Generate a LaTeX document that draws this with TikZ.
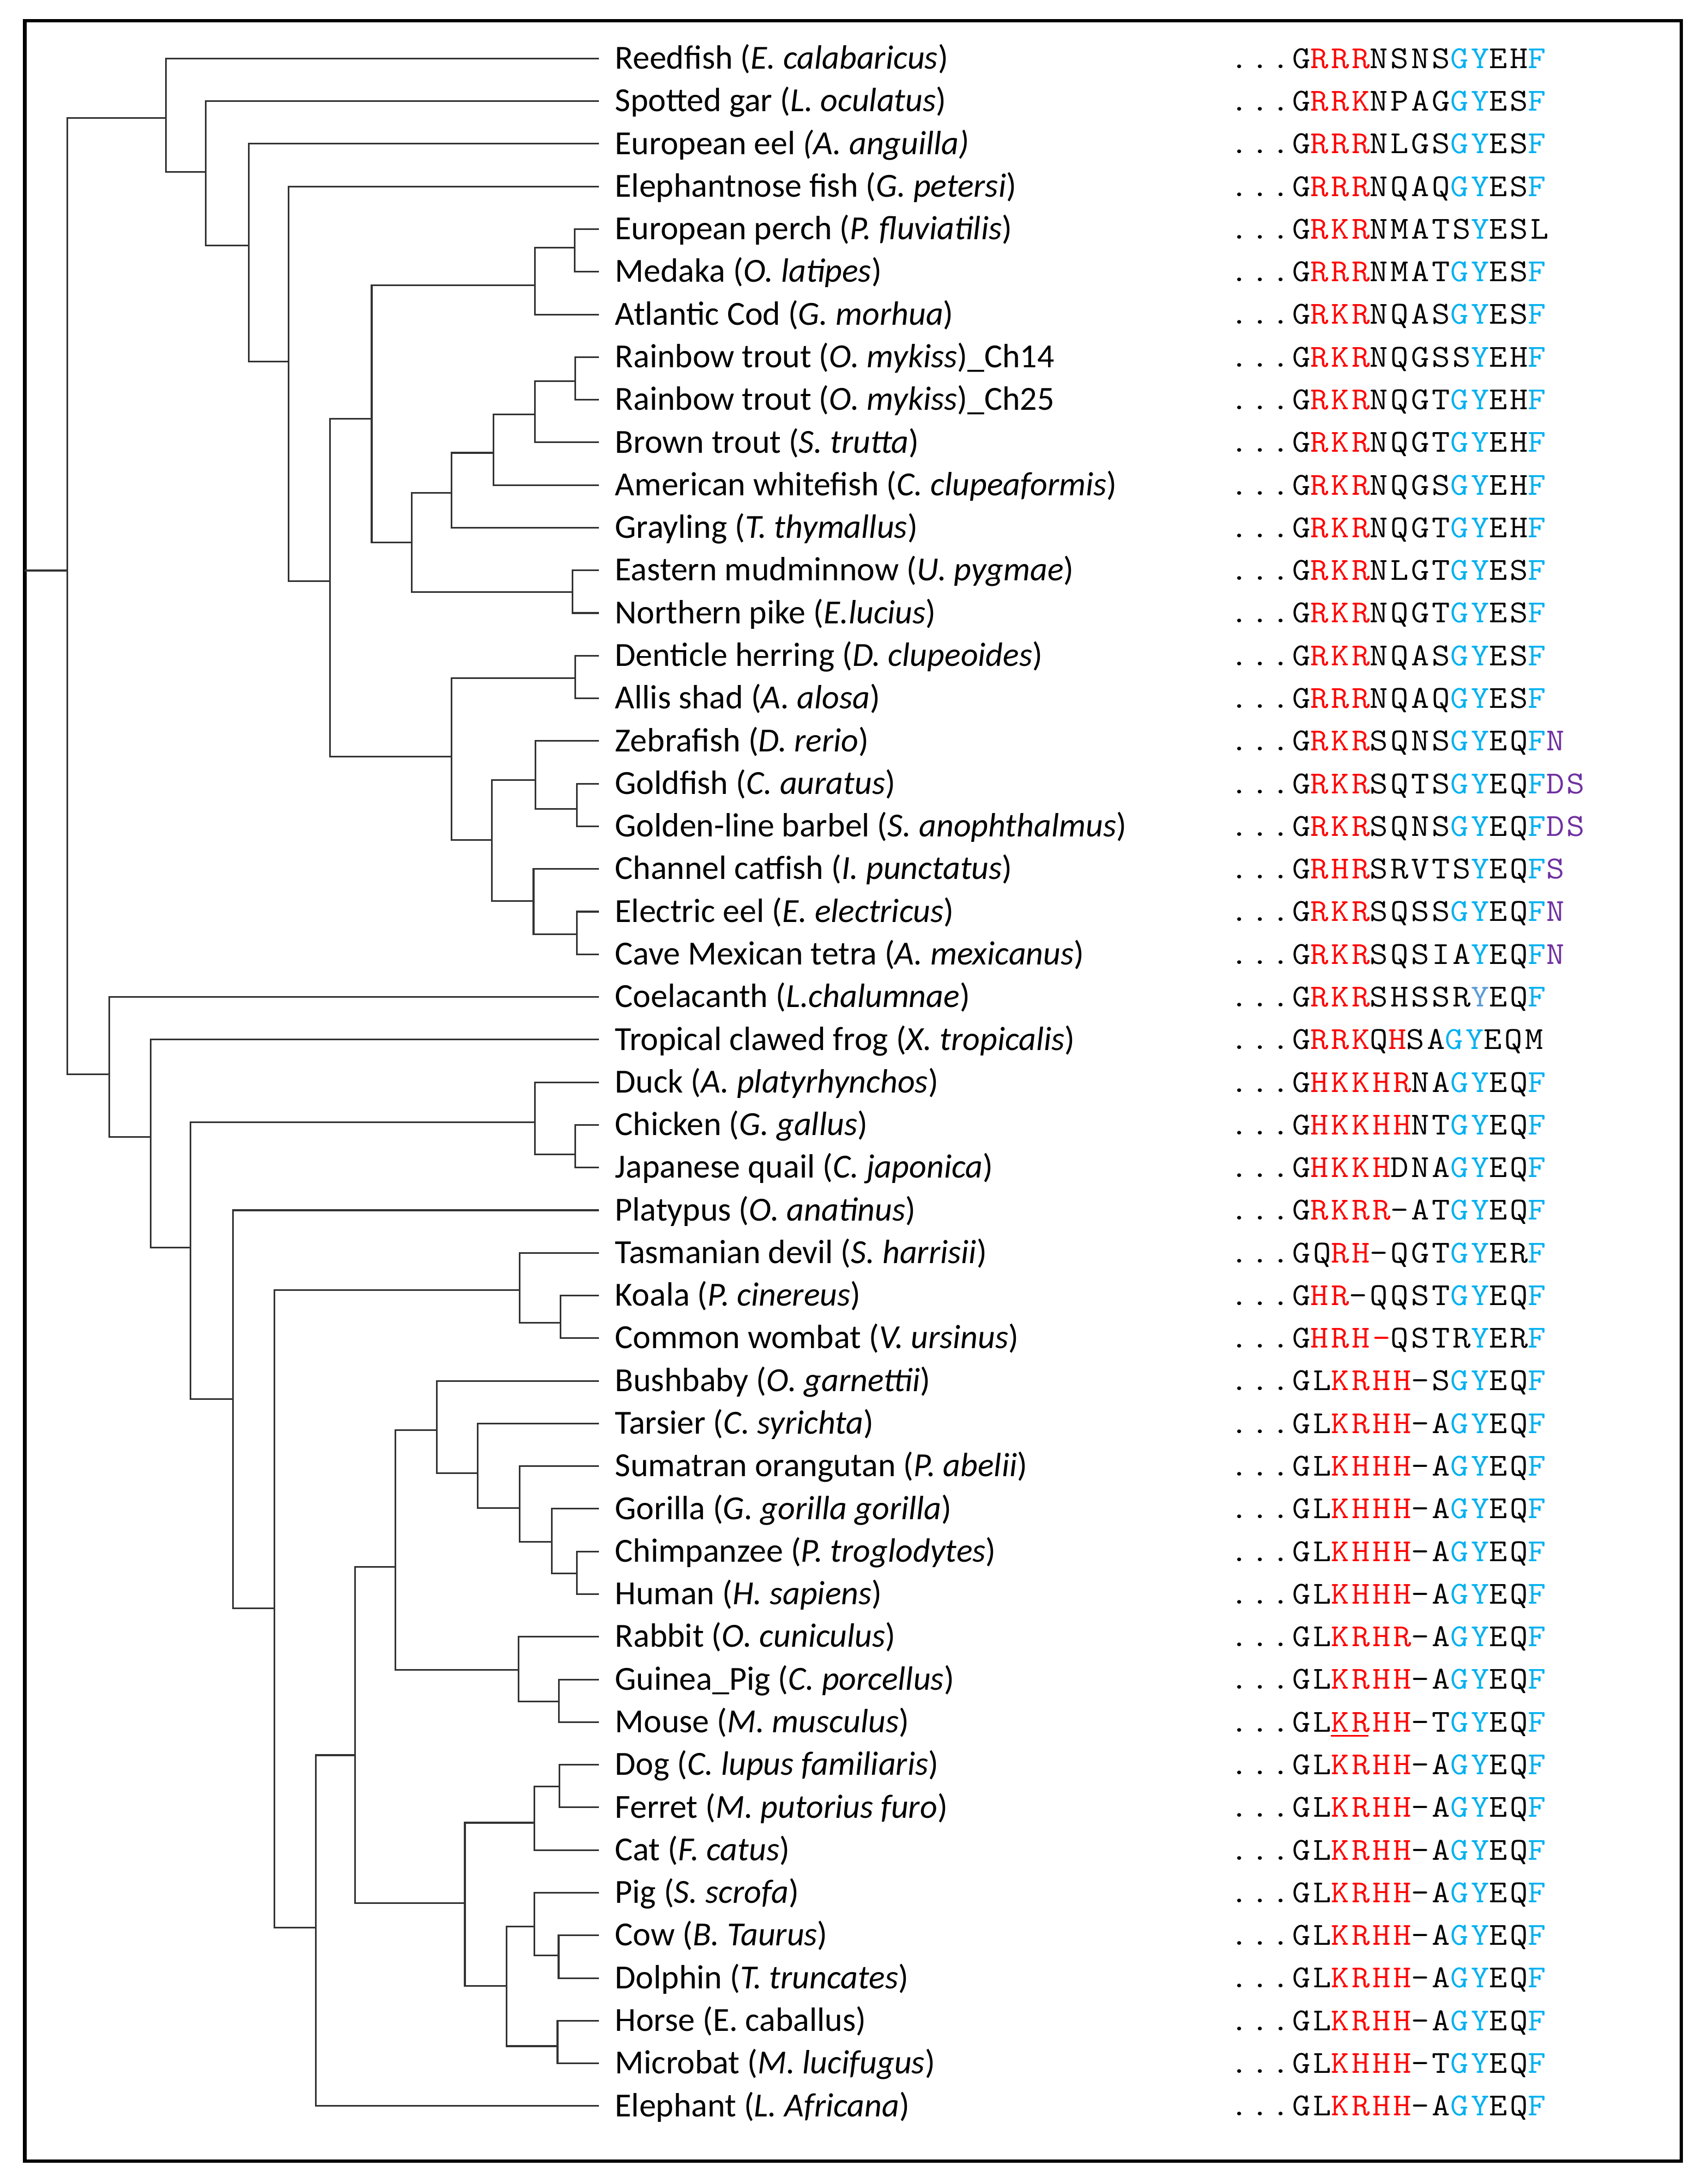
\documentclass[tikz,border=0pt]{standalone}
\usepackage{fontspec}
\setmainfont{Carlito}
\newfontfamily\seqfont[FakeStretch=1.1,LetterSpace=8]{Latin Modern Mono}

\definecolor{seqred}{RGB}{255,0,0}
\definecolor{seqblue}{RGB}{0,176,240}
\definecolor{seqpurple}{RGB}{112,48,160}
\definecolor{seqpale}{RGB}{91,155,213}
\newcommand{\aaR}[1]{\textcolor{seqred}{#1}}
\newcommand{\aaB}[1]{\textcolor{seqblue}{#1}}
\newcommand{\aaP}[1]{\textcolor{seqpurple}{#1}}
\newcommand{\aaU}{\rlap{\rule[-3.5pt]{27pt}{1.2pt}}}

\tikzset{every picture/.style={line width=1.2pt}}
\tikzset{
  branch/.style={draw=black!80, line width=1.2pt},
  leaf/.style={anchor=west, inner xsep=11pt, inner ysep=0pt, text height=15pt, text depth=0pt,
    font=\fontsize{24.2}{24}\selectfont},
  seq/.style={anchor=west, inner sep=0pt, text height=14pt, text depth=0pt,
    font=\seqfont\fontsize{23}{24}\selectfont},
}

\begin{document}
\begin{tikzpicture}[x=1pt,y=1pt,yscale=-1]
\useasboundingbox (0,0) rectangle (1226,1568);

%Frame
\draw [line width=2.4pt] (17.8,15) rectangle (1207,1551.4);

% Leaf nodes
\node[leaf] (reedfish) at (430,42) {Reedfish (\textit{E. calabaricus})};
\node[leaf] (gar) at (430,72.625) {Spotted gar (\textit{L. oculatus})};
\node[leaf] (eel) at (430,103.25) {European eel \textit{(A. anguilla)}};
\node[leaf] (elnose) at (430,133.875) {Elephantnose fish (\textit{G. petersi})};
\node[leaf] (perch) at (430,164.5) {European perch (\textit{P. fluviatilis})};
\node[leaf] (medaka) at (430,195.125) {Medaka (\textit{O. latipes})};
\node[leaf] (cod) at (430,225.75) {Atlantic Cod (\textit{G. morhua})};
\node[leaf] (trouta) at (430,256.375) {Rainbow trout (\textit{O. mykiss})\_Ch14};
\node[leaf] (troutb) at (430,287) {Rainbow trout (\textit{O. mykiss})\_Ch25};
\node[leaf] (brown) at (430,317.625) {Brown trout (\textit{S. trutta})};
\node[leaf] (whitefish) at (430,348.25) {American whitefish (\textit{C. clupeaformis})};
\node[leaf] (grayling) at (430,378.875) {Grayling (\textit{T. thymallus})};
\node[leaf] (mudminnow) at (430,409.5) {Eastern mudminnow (\textit{U. pygmae})};
\node[leaf] (pike) at (430,440.125) {Northern pike (\textit{E.lucius})};
\node[leaf] (herring) at (430,470.75) {Denticle herring (\textit{D. clupeoides})};
\node[leaf] (shad) at (430,501.375) {Allis shad (\textit{A. alosa})};
\node[leaf] (zebrafish) at (430,532) {Zebrafish (\textit{D. rerio})};
\node[leaf] (goldfish) at (430,562.625) {Goldfish (\textit{C. auratus})};
\node[leaf] (barbel) at (430,593.25) {Golden-line barbel (\textit{S. anophthalmus})};
\node[leaf] (catfish) at (430,623.875) {Channel catfish (\textit{I. punctatus})};
\node[leaf] (eleel) at (430,654.5) {Electric eel (\textit{E. electricus})};
\node[leaf] (tetra) at (430,685.125) {Cave Mexican tetra (\textit{A. mexicanus})};
\node[leaf] (coelacanth) at (430,715.75) {Coelacanth (\textit{L.chalumnae})};
\node[leaf] (frog) at (430,746.375) {Tropical clawed frog (\textit{X. tropicalis})};
\node[leaf] (duck) at (430,777) {Duck (\textit{A. platyrhynchos})};
\node[leaf] (chicken) at (430,807.625) {Chicken (\textit{G. gallus})};
\node[leaf] (quail) at (430,838.25) {Japanese quail (\textit{C. japonica})};
\node[leaf] (platypus) at (430,868.875) {Platypus (\textit{O. anatinus})};
\node[leaf] (devil) at (430,899.5) {Tasmanian devil (\textit{S. harrisii})};
\node[leaf] (koala) at (430,930.125) {Koala (\textit{P. cinereus})};
\node[leaf] (wombat) at (430,960.75) {Common wombat (\textit{V. ursinus})};
\node[leaf] (bushbaby) at (430,991.375) {Bushbaby (\textit{O. garnettii})};
\node[leaf] (tarsier) at (430,1022) {Tarsier (\textit{C. syrichta})};
\node[leaf] (orangutan) at (430,1052.625) {Sumatran orangutan (\textit{P. abelii})};
\node[leaf] (gorilla) at (430,1083.25) {Gorilla (\textit{G. gorilla gorilla})};
\node[leaf] (chimp) at (430,1113.875) {Chimpanzee (\textit{P. troglodytes})};
\node[leaf] (human) at (430,1144.5) {Human (\textit{H. sapiens})};
\node[leaf] (rabbit) at (430,1175.125) {Rabbit (\textit{O. cuniculus})};
\node[leaf] (guineapig) at (430,1205.75) {Guinea\_Pig (\textit{C. porcellus})};
\node[leaf] (mouse) at (430,1236.375) {Mouse (\textit{M. musculus})};
\node[leaf] (dog) at (430,1267) {Dog (\textit{C. lupus familiaris})};
\node[leaf] (ferret) at (430,1297.625) {Ferret (\textit{M. putorius furo})};
\node[leaf] (cat) at (430,1328.25) {Cat (\textit{F. catus})};
\node[leaf] (pig) at (430,1358.875) {Pig (\textit{S. scrofa})};
\node[leaf] (cow) at (430,1389.5) {Cow (\textit{B. Taurus})};
\node[leaf] (dolphin) at (430,1420.125) {Dolphin (\textit{T. truncates})};
\node[leaf] (horse) at (430,1450.75) {Horse (E. caballus)};
\node[leaf] (microbat) at (430,1481.375) {Microbat (\textit{M. lucifugus})};
\node[leaf] (elephant) at (430,1512) {Elephant (\textit{L. Africana})};

% Sequence nodes
\node[seq] (reedfish-s) at (882.4,42) {...G\aaR{RRR}NSNS\aaB{GY}EH\aaB{F}};
\node[seq] (gar-s) at (882.4,72.625) {...G\aaR{RRK}NPAG\aaB{GY}ES\aaB{F}};
\node[seq] (eel-s) at (882.4,103.25) {...G\aaR{RRR}NLGS\aaB{GY}ES\aaB{F}};
\node[seq] (elnose-s) at (882.4,133.875) {...G\aaR{RRR}NQAQ\aaB{GY}ES\aaB{F}};
\node[seq] (perch-s) at (882.4,164.5) {...G\aaR{RKR}NMATS\aaB{Y}ESL};
\node[seq] (medaka-s) at (882.4,195.125) {...G\aaR{RRR}NMAT\aaB{GY}ES\aaB{F}};
\node[seq] (cod-s) at (882.4,225.75) {...G\aaR{RKR}NQAS\aaB{GY}ES\aaB{F}};
\node[seq] (trouta-s) at (882.4,256.375) {...G\aaR{RKR}NQGSS\aaB{Y}EH\aaB{F}};
\node[seq] (troutb-s) at (882.4,287) {...G\aaR{RKR}NQGT\aaB{GY}EH\aaB{F}};
\node[seq] (brown-s) at (882.4,317.625) {...G\aaR{RKR}NQGT\aaB{GY}EH\aaB{F}};
\node[seq] (whitefish-s) at (882.4,348.25) {...G\aaR{RKR}NQGS\aaB{GY}EH\aaB{F}};
\node[seq] (grayling-s) at (882.4,378.875) {...G\aaR{RKR}NQGT\aaB{GY}EH\aaB{F}};
\node[seq] (mudminnow-s) at (882.4,409.5) {...G\aaR{RKR}NLGT\aaB{GY}ES\aaB{F}};
\node[seq] (pike-s) at (882.4,440.125) {...G\aaR{RKR}NQGT\aaB{GY}ES\aaB{F}};
\node[seq] (herring-s) at (882.4,470.75) {...G\aaR{RKR}NQAS\aaB{GY}ES\aaB{F}};
\node[seq] (shad-s) at (882.4,501.375) {...G\aaR{RRR}NQAQ\aaB{GY}ES\aaB{F}};
\node[seq] (zebrafish-s) at (882.4,532) {...G\aaR{RKR}SQNS\aaB{GY}EQ\aaB{F}\aaP{N}};
\node[seq] (goldfish-s) at (882.4,562.625) {...G\aaR{RKR}SQTS\aaB{GY}EQ\aaB{F}\aaP{DS}};
\node[seq] (barbel-s) at (882.4,593.25) {...G\aaR{RKR}SQNS\aaB{GY}EQ\aaB{F}\aaP{DS}};
\node[seq] (catfish-s) at (882.4,623.875) {...G\aaR{RHR}SRVTS\aaB{Y}EQ\aaB{F}\aaP{S}};
\node[seq] (eleel-s) at (882.4,654.5) {...G\aaR{RKR}SQSS\aaB{GY}EQ\aaB{F}\aaP{N}};
\node[seq] (tetra-s) at (882.4,685.125) {...G\aaR{RKR}SQSIA\aaB{Y}EQ\aaB{F}\aaP{N}};
\node[seq] (coelacanth-s) at (882.4,715.75) {...G\aaR{RKR}SHSSR\textcolor{seqpale}{Y}EQ\aaB{F}};
\node[seq] (frog-s) at (882.4,746.375) {...G\aaR{RRK}Q\aaR{H}SA\aaB{GY}EQM};
\node[seq] (duck-s) at (882.4,777) {...G\aaR{HKKHR}NA\aaB{GY}EQ\aaB{F}};
\node[seq] (chicken-s) at (882.4,807.625) {...G\aaR{HKKHH}NT\aaB{GY}EQ\aaB{F}};
\node[seq] (quail-s) at (882.4,838.25) {...G\aaR{HKKH}DNA\aaB{GY}EQ\aaB{F}};
\node[seq] (platypus-s) at (882.4,868.875) {...G\aaR{RKRR}-AT\aaB{GY}EQ\aaB{F}};
\node[seq] (devil-s) at (882.4,899.5) {...GQ\aaR{RH}-QGT\aaB{GY}ER\aaB{F}};
\node[seq] (koala-s) at (882.4,930.125) {...G\aaR{HR}-QQST\aaB{GY}EQ\aaB{F}};
\node[seq] (wombat-s) at (882.4,960.75) {...G\aaR{HRH-}QSTR\aaB{Y}ER\aaB{F}};
\node[seq] (bushbaby-s) at (882.4,991.375) {...GL\aaR{KRHH}-S\aaB{GY}EQ\aaB{F}};
\node[seq] (tarsier-s) at (882.4,1022) {...GL\aaR{KRHH}-A\aaB{GY}EQ\aaB{F}};
\node[seq] (orangutan-s) at (882.4,1052.625) {...GL\aaR{KHHH}-A\aaB{GY}EQ\aaB{F}};
\node[seq] (gorilla-s) at (882.4,1083.25) {...GL\aaR{KHHH}-A\aaB{GY}EQ\aaB{F}};
\node[seq] (chimp-s) at (882.4,1113.875) {...GL\aaR{KHHH}-A\aaB{GY}EQ\aaB{F}};
\node[seq] (human-s) at (882.4,1144.5) {...GL\aaR{KHHH}-A\aaB{GY}EQ\aaB{F}};
\node[seq] (rabbit-s) at (882.4,1175.125) {...GL\aaR{KRHR}-A\aaB{GY}EQ\aaB{F}};
\node[seq] (guineapig-s) at (882.4,1205.75) {...GL\aaR{KRHH}-A\aaB{GY}EQ\aaB{F}};
\node[seq] (mouse-s) at (882.4,1236.375) {...GL\aaR{\aaU KRHH}-T\aaB{GY}EQ\aaB{F}};
\node[seq] (dog-s) at (882.4,1267) {...GL\aaR{KRHH}-A\aaB{GY}EQ\aaB{F}};
\node[seq] (ferret-s) at (882.4,1297.625) {...GL\aaR{KRHH}-A\aaB{GY}EQ\aaB{F}};
\node[seq] (cat-s) at (882.4,1328.25) {...GL\aaR{KRHH}-A\aaB{GY}EQ\aaB{F}};
\node[seq] (pig-s) at (882.4,1358.875) {...GL\aaR{KRHH}-A\aaB{GY}EQ\aaB{F}};
\node[seq] (cow-s) at (882.4,1389.5) {...GL\aaR{KRHH}-A\aaB{GY}EQ\aaB{F}};
\node[seq] (dolphin-s) at (882.4,1420.125) {...GL\aaR{KRHH}-A\aaB{GY}EQ\aaB{F}};
\node[seq] (horse-s) at (882.4,1450.75) {...GL\aaR{KRHH}-A\aaB{GY}EQ\aaB{F}};
\node[seq] (microbat-s) at (882.4,1481.375) {...GL\aaR{KHHH}-T\aaB{GY}EQ\aaB{F}};
\node[seq] (elephant-s) at (882.4,1512) {...GL\aaR{KRHH}-A\aaB{GY}EQ\aaB{F}};

% Internal nodes
\coordinate (stem) at (17.8,409.6);
\coordinate (root) at (48.2,409.6);
\coordinate (actino) at (119,84.8);
\coordinate (neoa) at (147.8,123.5);
\coordinate (neob) at (178.5,176.4);
\coordinate (neoc) at (207.1,259.5);
\coordinate (neod) at (237,417.1);
\coordinate (eutel) at (266.8,300.6);
\coordinate (percomorph) at (383.9,204.8);
\coordinate (perchmedaka) at (412.6,177.9);
\coordinate (protacanth) at (295.5,389.5);
\coordinate (salmo) at (324.2,353.8);
\coordinate (salmb) at (354.3,325.1);
\coordinate (salmc) at (384,297.6);
\coordinate (trouts) at (413.1,273.7);
\coordinate (esoc) at (411.1,425.1);
\coordinate (otocephala) at (324.2,543.1);
\coordinate (clupe) at (413.1,487);
\coordinate (ostario) at (352.9,603.2);
\coordinate (cyprin) at (384.4,560);
\coordinate (goldpair) at (414,580.8);
\coordinate (chara) at (383,646.9);
\coordinate (eeltetra) at (414,670.6);
\coordinate (sarco) at (78.3,771.3);
\coordinate (tetrapod) at (108.2,816.3);
\coordinate (amniote) at (136.9,895.6);
\coordinate (birds) at (383.9,805.8);
\coordinate (galli) at (413.1,828.7);
\coordinate (mammal) at (167.3,1004.6);
\coordinate (therian) at (197.1,1154.6);
\coordinate (marsup) at (373,926.3);
\coordinate (vomb) at (402.5,949.7);
\coordinate (placental) at (226.7,1383.8);
\coordinate (boreo) at (254.8,1260.1);
\coordinate (euarch) at (284,1125.1);
\coordinate (primate) at (313.6,1026.6);
\coordinate (haplo) at (342.8,1057.8);
\coordinate (apes) at (373,1082.7);
\coordinate (hominin) at (396,1107);
\coordinate (chimphuman) at (414,1129.5);
\coordinate (glires) at (372.4,1198.8);
\coordinate (rodent) at (401.1,1221.4);
\coordinate (laur) at (333.7,1366.4);
\coordinate (carniv) at (383.6,1308.6);
\coordinate (dogferret) at (401.7,1282.6);
\coordinate (ungul) at (363.5,1425.7);
\coordinate (artio) at (383.6,1383.2);
\coordinate (cetrum) at (401,1404);
\coordinate (horsebat) at (400.2,1469);

% Branches, fishes
\draw[branch] (stem) -- (root) (root) |- (actino) (root) |- (sarco);
\draw[branch] (actino) |- (reedfish.west) (actino) |- (neoa);
\draw[branch] (neoa) |- (gar.west) (neoa) |- (neob);
\draw[branch] (neob) |- (eel.west) (neob) |- (neoc);
\draw[branch] (neoc) |- (elnose.west) (neoc) |- (neod);
\draw[branch] (neod) |- (eutel) (neod) |- (otocephala);
\draw[branch] (eutel) |- (percomorph) (eutel) |- (protacanth);
\draw[branch] (percomorph) |- (perchmedaka) (percomorph) |- (cod.west);
\draw[branch] (perchmedaka) |- (perch.west) (perchmedaka) |- (medaka.west);
\draw[branch] (protacanth) |- (salmo) (protacanth) |- (esoc);
\draw[branch] (salmo) |- (salmb) (salmo) |- (grayling.west);
\draw[branch] (salmb) |- (salmc) (salmb) |- (whitefish.west);
\draw[branch] (salmc) |- (trouts) (salmc) |- (brown.west);
\draw[branch] (trouts) |- (trouta.west) (trouts) |- (troutb.west);
\draw[branch] (esoc) |- (mudminnow.west) (esoc) |- (pike.west);
\draw[branch] (otocephala) |- (clupe) (otocephala) |- (ostario);
\draw[branch] (clupe) |- (herring.west) (clupe) |- (shad.west);
\draw[branch] (ostario) |- (cyprin) (ostario) |- (chara);
\draw[branch] (cyprin) |- (zebrafish.west) (cyprin) |- (goldpair);
\draw[branch] (goldpair) |- (goldfish.west) (goldpair) |- (barbel.west);
\draw[branch] (chara) |- (catfish.west) (chara) |- (eeltetra);
\draw[branch] (eeltetra) |- (eleel.west) (eeltetra) |- (tetra.west);

% Branches, tetrapods
\draw[branch] (sarco) |- (coelacanth.west) (sarco) |- (tetrapod);
\draw[branch] (tetrapod) |- (frog.west) (tetrapod) |- (amniote);
\draw[branch] (amniote) |- (birds) (amniote) |- (mammal);
\draw[branch] (birds) |- (duck.west) (birds) |- (galli);
\draw[branch] (galli) |- (chicken.west) (galli) |- (quail.west);
\draw[branch] (mammal) |- (platypus.west) (mammal) |- (therian);
\draw[branch] (therian) |- (marsup) (therian) |- (placental);
\draw[branch] (marsup) |- (devil.west) (marsup) |- (vomb);
\draw[branch] (vomb) |- (koala.west) (vomb) |- (wombat.west);
\draw[branch] (placental) |- (boreo) (placental) |- (elephant.west);
\draw[branch] (boreo) |- (euarch) (boreo) |- (laur);
\draw[branch] (euarch) |- (primate) (euarch) |- (glires);
\draw[branch] (primate) |- (bushbaby.west) (primate) |- (haplo);
\draw[branch] (haplo) |- (tarsier.west) (haplo) |- (apes);
\draw[branch] (apes) |- (orangutan.west) (apes) |- (hominin);
\draw[branch] (hominin) |- (gorilla.west) (hominin) |- (chimphuman);
\draw[branch] (chimphuman) |- (chimp.west) (chimphuman) |- (human.west);
\draw[branch] (glires) |- (rabbit.west) (glires) |- (rodent);
\draw[branch] (rodent) |- (guineapig.west) (rodent) |- (mouse.west);
\draw[branch] (laur) |- (carniv) (laur) |- (ungul);
\draw[branch] (carniv) |- (dogferret) (carniv) |- (cat.west);
\draw[branch] (dogferret) |- (dog.west) (dogferret) |- (ferret.west);
\draw[branch] (ungul) |- (artio) (ungul) |- (horsebat);
\draw[branch] (artio) |- (pig.west) (artio) |- (cetrum);
\draw[branch] (cetrum) |- (cow.west) (cetrum) |- (dolphin.west);
\draw[branch] (horsebat) |- (horse.west) (horsebat) |- (microbat.west);

\end{tikzpicture}
\end{document}
